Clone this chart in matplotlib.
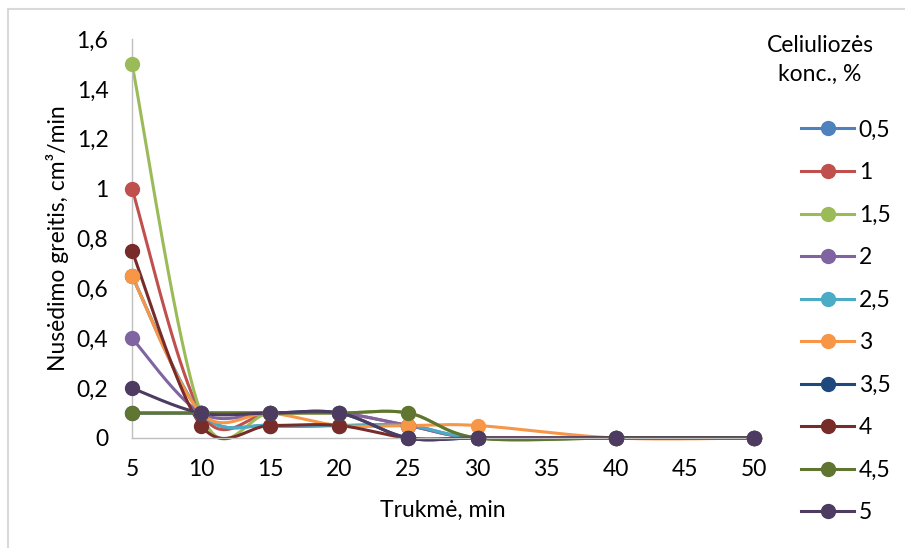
import numpy as np
import matplotlib
matplotlib.use("Agg")
import matplotlib.pyplot as plt
from matplotlib.lines import Line2D
from matplotlib.patches import Rectangle

plt.rcParams['font.family'] = ['Lato', 'DejaVu Sans']

# Sedimentation rate (cm3/min) versus time for each cellulose concentration
time_min = [5, 10, 15, 20, 25, 30, 40, 50]
conc_labels = ['0,5', '1', '1,5', '2', '2,5', '3', '3,5', '4', '4,5', '5']
rate_05 = [0.65, 0.10, 0.05, 0.05, 0.05, 0.00, 0.00, 0.00]
rate_1 = [1.00, 0.10, 0.10, 0.10, 0.05, 0.00, 0.00, 0.00]
rate_15 = [1.50, 0.10, 0.10, 0.10, 0.10, 0.00, 0.00, 0.00]
rate_2 = [0.40, 0.10, 0.10, 0.10, 0.05, 0.00, 0.00, 0.00]
rate_25 = [0.65, 0.10, 0.05, 0.05, 0.05, 0.00, 0.00, 0.00]
rate_3 = [0.65, 0.10, 0.10, 0.05, 0.05, 0.05, 0.00, 0.00]
rate_35 = [0.10, 0.10, 0.10, 0.10, 0.00, 0.00, 0.00, 0.00]
rate_4 = [0.75, 0.05, 0.05, 0.05, 0.00, 0.00, 0.00, 0.00]
rate_45 = [0.10, 0.10, 0.10, 0.10, 0.10, 0.00, 0.00, 0.00]
rate_5 = [0.20, 0.10, 0.10, 0.10, 0.00, 0.00, 0.00, 0.00]
series = [rate_05, rate_1, rate_15, rate_2, rate_25, rate_3, rate_35, rate_4, rate_45, rate_5]
colors = ['#4F81BD', '#C0504D', '#9BBB59', '#8064A2', '#4BACC6',
          '#F79646', '#1F497D', '#772C2A', '#5F7530', '#4D3B62']

x_ticks = [5, 10, 15, 20, 25, 30, 35, 40, 45, 50]
y_ticks = [0, 0.2, 0.4, 0.6, 0.8, 1.0, 1.2, 1.4, 1.6]
y_tick_labels = ['0', '0,2', '0,4', '0,6', '0,8', '1', '1,2', '1,4', '1,6']

FS = 16.5


def smooth_curve(xs, ys, n=40):
    """Catmull-Rom style cubic Bezier through the points (spreadsheet smoothing)."""
    p = np.column_stack([xs, ys]).astype(float)
    ext = np.vstack([p[0], p, p[-1]])
    out = []
    t = np.linspace(0, 1, n)[:, None]
    for i in range(len(p) - 1):
        p0, p1, p2, p3 = ext[i], ext[i + 1], ext[i + 2], ext[i + 3]
        c1 = p1 + (p2 - p0) / 6.0
        c2 = p2 - (p3 - p1) / 6.0
        seg = ((1 - t) ** 3) * p1 + 3 * ((1 - t) ** 2) * t * c1 + 3 * (1 - t) * t ** 2 * c2 + t ** 3 * p2
        out.append(seg if i == 0 else seg[1:])
    pts = np.vstack(out)
    return pts[:, 0], pts[:, 1]


W, H = 905, 548
fig = plt.figure(figsize=(W / 100, H / 100), dpi=100)
ax = fig.add_axes([132 / W, (H - 438) / H, (754 - 132) / W, (438 - 39) / H])

for vals, col in zip(series, colors):
    sx, sy = smooth_curve(time_min, vals)
    ax.plot(sx, sy, color=col, lw=2.2, solid_capstyle='round', zorder=2, clip_on=False)
    ax.plot(time_min, vals, 'o', color=col, ms=10, zorder=3, clip_on=False)

ax.set_xlim(5, 50)
ax.set_ylim(0, 1.6)
ax.set_xticks(x_ticks)
ax.set_xticklabels([str(v) for v in x_ticks])
ax.set_yticks(y_ticks)
ax.set_yticklabels(y_tick_labels)
ax.tick_params(axis='both', length=0, labelsize=FS, colors='#000000')
ax.tick_params(axis='y', pad=17)
ax.tick_params(axis='x', pad=15)
for s in ['top', 'right']:
    ax.spines[s].set_visible(False)
for s in ['left', 'bottom']:
    ax.spines[s].set_color('#BFBFBF')
    ax.spines[s].set_linewidth(1.0)

ax.set_xlabel('Trukmė, min', fontsize=FS)
ax.set_ylabel('Nusėdimo greitis, cm³/min', fontsize=FS)
ax.xaxis.set_label_coords(0.5, -0.155)
ax.yaxis.set_label_coords(-0.101, 0.5)

# Legend with a two-line title
fig.text(820 / W, 1 - 60 / H, 'Celiuliozės\nkonc., %', ha='center', va='center',
         fontsize=FS, linespacing=1.5)
handles = [Line2D([], [], color=c, lw=2.2, marker='o', ms=10) for c in colors]
fig.legend(handles, conc_labels, loc='upper left', bbox_to_anchor=(790 / W, 1 - 108 / H),
           frameon=False, fontsize=FS, handlelength=2.3, handletextpad=0.2,
           labelspacing=0.94, borderpad=0)

# Light chart-area border
fig.add_artist(Rectangle((8 / W, -0.05), 1.1, 1 - 9 / H + 0.05, transform=fig.transFigure,
                         fill=False, edgecolor='#D9D9D9', lw=1.5))

fig.savefig('out.png', dpi=100)
